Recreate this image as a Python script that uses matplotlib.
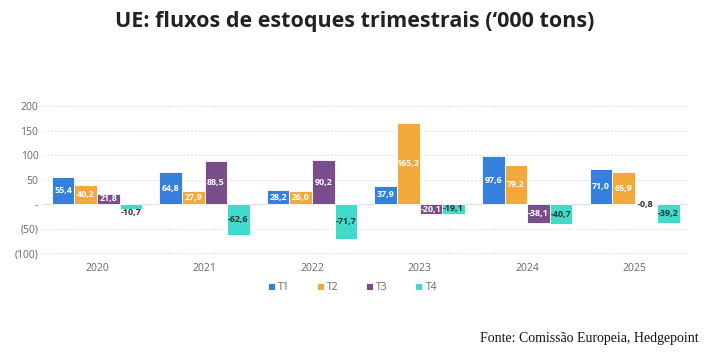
import matplotlib
matplotlib.use("Agg")
import matplotlib.pyplot as plt
import numpy as np
from matplotlib.ticker import FixedLocator, FixedFormatter

years = ["2020", "2021", "2022", "2023", "2024", "2025"]
series_names = ["T1", "T2", "T3", "T4"]
t1 = [55.4, 64.8, 28.2, 37.9, 97.6, 71.0]
t2 = [40.2, 27.9, 26.0, 165.2, 79.2, 65.9]
t3 = [21.8, 88.5, 90.2, -20.1, -38.1, -0.8]
t4 = [-10.7, -62.6, -71.7, -19.1, -40.7, -39.2]
yticks = [200, 150, 100, 50, 0, -50, -100]
ytick_labels = ["200", "150", "100", "50", "-", "(50)", "(100)"]
title = "UE: fluxos de estoques trimestrais (\u2018000 tons)"
source = "Fonte: Comiss\u00e3o Europeia, Hedgepoint"

colors = ["#3580DC", "#F2A93B", "#7A4E8C", "#40DBCB"]
series = [t1, t2, t3, t4]

fig = plt.figure(figsize=(7.09, 3.54), dpi=100)
ax = fig.add_axes([0.061, 0.268, 0.91, 0.446])
x = np.arange(len(years))
w = 0.21
for i, (vals, c, name) in enumerate(zip(series, colors, series_names)):
    pos = x + (i - 1.5) * w
    ax.bar(pos, vals, width=w, color=c, edgecolor="white", linewidth=0.6, label=name, zorder=3)
    for xp, v in zip(pos, vals):
        lab = f"{v:.1f}".replace(".", ",")
        if i == 3 or abs(v) < 5:
            tc = "#333333"
        else:
            tc = "white"
        yy = v / 2
        if abs(v) < 15 and i == 3:
            yy = v - 6
        ax.text(xp, yy, lab, ha="center", va="center", fontsize=6.4, color=tc,
                fontweight="bold", family="Open Sans", zorder=4)

ax.set_ylim(-112, 210)
ax.set_xlim(-0.5, len(years) - 0.5)
ax.yaxis.set_major_locator(FixedLocator(yticks))
ax.yaxis.set_major_formatter(FixedFormatter(ytick_labels))
for yv in yticks:
    if yv == 0:
        ax.axhline(0, color="#dddddd", linewidth=0.8, zorder=2)
    else:
        ax.axhline(yv, color="#d8d8d8", linewidth=0.7, linestyle=(0, (1.5, 2.5)), zorder=1)
ax.set_xticks(x)
ax.set_xticklabels(years)
for s in ax.spines.values():
    s.set_visible(False)
ax.tick_params(axis="both", length=0, colors="#666666", labelsize=7.5)
ax.tick_params(axis="x", pad=3)
for lab in ax.get_xticklabels() + ax.get_yticklabels():
    lab.set_family("Open Sans")

leg = fig.legend(loc="center", bbox_to_anchor=(0.497, 0.187), ncol=4, frameon=False,
                 handlelength=0.7, handleheight=0.7, columnspacing=2.6,
                 handletextpad=0.3, prop={"family": "Open Sans", "size": 7.5})
for t in leg.get_texts():
    t.set_color("#666666")

fig.text(0.5, 0.938, title, ha="center", va="center", fontsize=15.5, fontweight="bold",
         family="Open Sans", color="#222222")
fig.text(0.985, 0.045, source, ha="right", va="center", fontsize=10,
         family="Liberation Serif", color="#111111")

fig.savefig("out.png", dpi=100)
